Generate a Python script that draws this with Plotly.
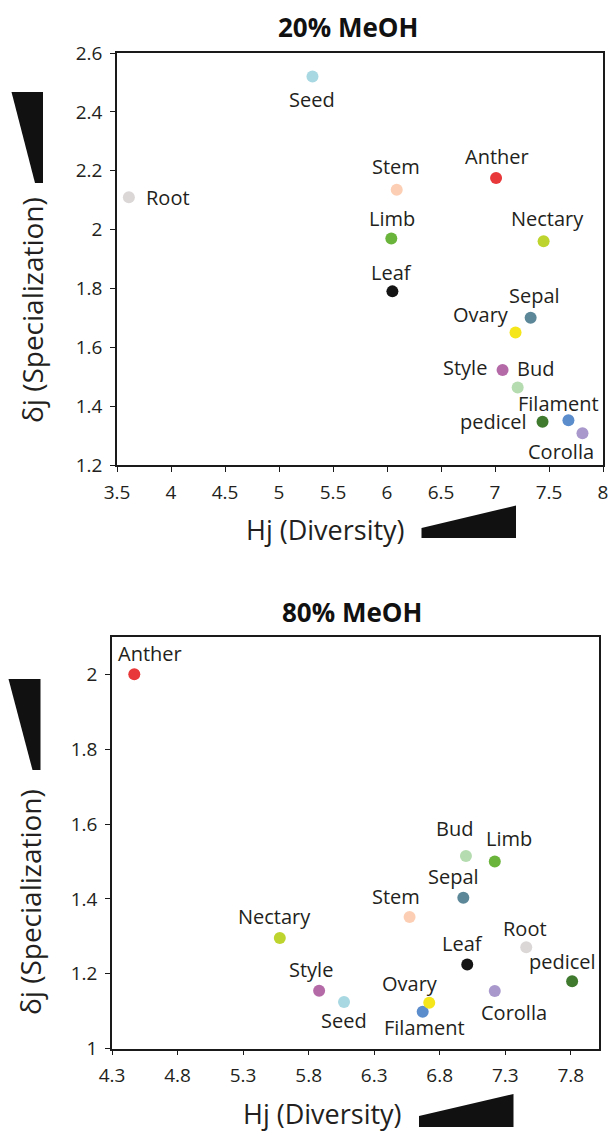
import plotly.graph_objects as go

# ---- data: 20% MeOH extract ----
organs_20 = ["Root", "Seed", "Stem", "Anther", "Limb", "Nectary", "Leaf", "Sepal",
             "Ovary", "Style", "Bud", "pedicel", "Filament", "Corolla"]
hj_20 = [3.61, 5.31, 6.09, 7.01, 6.04, 7.45, 6.05, 7.33, 7.19, 7.07, 7.21, 7.44, 7.68, 7.81]
dj_20 = [2.11, 2.52, 2.135, 2.175, 1.97, 1.96, 1.79, 1.70, 1.65, 1.523, 1.463, 1.347, 1.352, 1.308]

# ---- data: 80% MeOH extract ----
organs_80 = ["Anther", "Bud", "Limb", "Sepal", "Stem", "Nectary", "Root", "Leaf",
             "pedicel", "Style", "Corolla", "Seed", "Filament", "Ovary"]
hj_80 = [4.47, 7.00, 7.22, 6.98, 6.57, 5.58, 7.46, 7.01, 7.81, 5.88, 7.22, 6.07, 6.67, 6.72]
dj_80 = [2.00, 1.515, 1.50, 1.403, 1.352, 1.296, 1.271, 1.225, 1.18, 1.155, 1.154, 1.125, 1.099, 1.123]

# ---- axis ticks ----
x20_ticks = [3.5, 4, 4.5, 5, 5.5, 6, 6.5, 7, 7.5, 8]
x20_labels = ["3.5", "4", "4.5", "5", "5.5", "6", "6.5", "7", "7.5", "8"]
y20_ticks = [1.2, 1.4, 1.6, 1.8, 2.0, 2.2, 2.4, 2.6]
y20_labels = ["1.2", "1.4", "1.6", "1.8", "2", "2.2", "2.4", "2.6"]
x80_ticks = [4.3, 4.8, 5.3, 5.8, 6.3, 6.8, 7.3, 7.8]
x80_labels = ["4.3", "4.8", "5.3", "5.8", "6.3", "6.8", "7.3", "7.8"]
y80_ticks = [1.0, 1.2, 1.4, 1.6, 1.8, 2.0]
y80_labels = ["1", "1.2", "1.4", "1.6", "1.8", "2"]

# ---- styling ----
organ_colors = {
    "Root": "#dcd7d7", "Seed": "#a8d8e2", "Stem": "#fccfb4", "Anther": "#e8383a",
    "Limb": "#6bb43c", "Nectary": "#bed42e", "Leaf": "#141414", "Sepal": "#5b8798",
    "Ovary": "#f4e61a", "Style": "#b56aa8", "Bud": "#b5dcb0", "pedicel": "#3f7a2e",
    "Filament": "#5b8ccc", "Corolla": "#a898cc",
}
# label placement: (xanchor, xshift px, yshift px)
label_pos_20 = {
    "Root": ("left", 15, 0), "Seed": ("center", 0, -23), "Stem": ("center", -1, 23),
    "Anther": ("center", 1, 22), "Limb": ("center", 1, 20), "Nectary": ("center", 4, 23),
    "Leaf": ("center", -1, 19), "Sepal": ("center", 4, 22), "Ovary": ("right", -5, 18),
    "Style": ("right", -14, 2), "Bud": ("center", 18, 19), "pedicel": ("right", -14, 0),
    "Filament": ("center", -10, 17), "Corolla": ("center", -21, -18),
}
label_pos_80 = {
    "Anther": ("center", 16, 21), "Bud": ("center", -11, 27), "Limb": ("center", 14, 23),
    "Sepal": ("center", -10, 21), "Stem": ("center", -14, 20), "Nectary": ("center", -5, 21),
    "Root": ("center", -1, 19), "Leaf": ("center", -5, 21), "pedicel": ("center", -10, 20),
    "Style": ("center", -8, 21), "Corolla": ("center", 19, -21), "Seed": ("center", 0, -19),
    "Ovary": ("center", -19, 19), "Filament": ("center", 2, -16),
}

W, H = 612, 1133
FONT = "Open Sans"
TXT = "#231f20"


def px(x):
    return x / W


def py(y):
    return 1 - y / H


fig = go.Figure()

fig.add_trace(go.Scatter(
    x=hj_20, y=dj_20, mode="markers", xaxis="x", yaxis="y",
    marker=dict(size=12, color=[organ_colors[o] for o in organs_20]),
    hovertext=organs_20, showlegend=False,
))
fig.add_trace(go.Scatter(
    x=hj_80, y=dj_80, mode="markers", xaxis="x2", yaxis="y2",
    marker=dict(size=12, color=[organ_colors[o] for o in organs_80]),
    hovertext=organs_80, showlegend=False,
))

annotations = []
for organs, xs, ys, pos, xr, yr in [
    (organs_20, hj_20, dj_20, label_pos_20, "x", "y"),
    (organs_80, hj_80, dj_80, label_pos_80, "x2", "y2"),
]:
    for o, xv, yv in zip(organs, xs, ys):
        anchor, dx, dy = pos[o]
        annotations.append(dict(
            x=xv, y=yv, xref=xr, yref=yr, text=o, showarrow=False,
            xanchor=anchor, yanchor="middle", xshift=dx, yshift=dy,
            font=dict(family=FONT, size=20, color=TXT),
        ))

# panel titles
for txt, cx, cy in [("<b>20% MeOH</b>", 348, 27), ("<b>80% MeOH</b>", 352, 612)]:
    annotations.append(dict(x=px(cx), y=py(cy), xref="paper", yref="paper", text=txt,
                            showarrow=False, xanchor="center", yanchor="middle",
                            font=dict(family=FONT, size=26, color="#111")))
# axis titles
for cx, cy in [(325, 529), (322, 1113)]:
    annotations.append(dict(x=px(cx), y=py(cy), xref="paper", yref="paper",
                            text="Hj (Diversity)", showarrow=False,
                            xanchor="center", yanchor="middle", borderpad=0,
                            font=dict(family=FONT, size=27, color=TXT)))
for cx, cy in [(32, 310), (30, 902)]:
    annotations.append(dict(x=px(cx), y=py(cy), xref="paper", yref="paper",
                            text="δj (Specialization)", showarrow=False, textangle=-90,
                            xanchor="center", yanchor="middle",
                            font=dict(family=FONT, size=28, color=TXT)))


def wedge(points):
    d = "M " + " L ".join(f"{px(a):.5f},{py(b):.5f}" for a, b in points) + " Z"
    return dict(type="path", path=d, xref="paper", yref="paper",
                fillcolor="#111111", line=dict(width=0))


shapes = [
    wedge([(11.5, 92), (43, 92), (43, 183), (35, 183)]),
    wedge([(8.5, 679), (40.5, 679), (40.5, 770), (32.5, 770)]),
    wedge([(421.5, 528), (516, 505.5), (516, 538), (421.5, 538)]),
    wedge([(419, 1116), (513.5, 1094), (513.5, 1127), (419, 1127)]),
]

axis_common = dict(showline=True, linecolor="#1a1a1a", linewidth=1.5, mirror=True,
                   ticks="outside", ticklen=5, tickwidth=1.3, tickcolor="#1a1a1a",
                   showgrid=False, zeroline=False, automargin=False,
                   ticklabelstandoff=4,
                   tickfont=dict(family=FONT, size=19, color=TXT))

fig.update_layout(
    width=W, height=H, margin=dict(l=0, r=0, t=0, b=0, autoexpand=False),
    paper_bgcolor="white", plot_bgcolor="white",
    xaxis=dict(domain=[px(117), px(603)], range=[3.5, 8], anchor="y",
               tickvals=x20_ticks, ticktext=x20_labels, **axis_common),
    yaxis=dict(domain=[py(465), py(53)], range=[1.2, 2.6], anchor="x",
               tickvals=y20_ticks, ticktext=y20_labels, **axis_common),
    xaxis2=dict(domain=[px(112), px(599)], range=[4.3, 8.015], anchor="y2",
                tickvals=x80_ticks, ticktext=x80_labels, **axis_common),
    yaxis2=dict(domain=[py(1048.7), py(637.3)], range=[1.0, 2.099], anchor="x2",
                tickvals=y80_ticks, ticktext=y80_labels, **axis_common),
    annotations=annotations, shapes=shapes, showlegend=False,
)

fig.write_html("out.html")
